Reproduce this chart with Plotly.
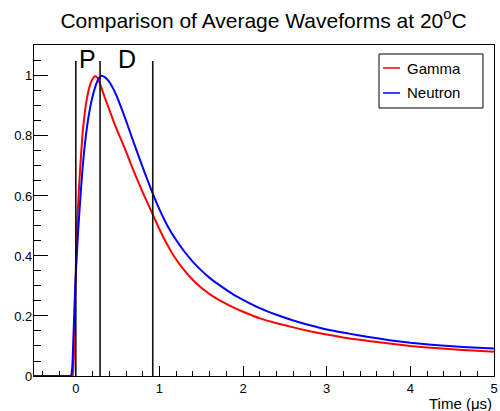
import plotly.graph_objects as go

# ---- data ----
time_gamma = [-0.5, -0.3, -0.1, -0.04, -0.03, -0.02, -0.01, 0.0, 0.01, 0.02, 0.03, 0.05, 0.08,
              0.1, 0.13, 0.17, 0.2, 0.23, 0.26, 0.3, 0.35, 0.4, 0.47, 0.53, 0.59, 0.66, 0.7,
              0.8, 0.9, 0.925, 1.0, 1.1, 1.2, 1.3, 1.4, 1.5, 1.6, 1.7, 1.8, 1.9, 2.0, 2.2,
              2.4, 2.6, 2.8, 3.0, 3.25, 3.5, 3.75, 4.0, 4.25, 4.5, 4.75, 5.0]
gamma = [0.0, 0.0, 0.0, 0.0, 0.02, 0.1, 0.22, 0.36, 0.46, 0.53, 0.585, 0.685, 0.805,
         0.86, 0.92, 0.97, 0.99, 1.0, 0.993, 0.965, 0.925, 0.888, 0.835, 0.795, 0.755, 0.705,
         0.678, 0.612, 0.55, 0.535, 0.489, 0.434, 0.388, 0.351, 0.320, 0.294, 0.273, 0.255,
         0.240, 0.226, 0.214, 0.192, 0.176, 0.162, 0.149, 0.138, 0.126, 0.117, 0.108, 0.100,
         0.094, 0.089, 0.085, 0.081]

time_neutron = [-0.5, -0.3, -0.1, -0.06, -0.05, -0.04, -0.03, -0.02, -0.01, 0.0, 0.02, 0.04,
                0.06, 0.08, 0.1, 0.12, 0.15, 0.19, 0.24, 0.27, 0.3, 0.35, 0.4, 0.45, 0.5, 0.6,
                0.7, 0.8, 0.9, 1.0, 1.1, 1.2, 1.3, 1.4, 1.5, 1.6, 1.7, 1.8, 1.9, 2.0, 2.2, 2.4,
                2.6, 2.8, 3.0, 3.25, 3.5, 3.75, 4.0, 4.25, 4.5, 4.75, 5.0]
neutron = [0.0, 0.0, 0.0, 0.0, 0.01, 0.04, 0.12, 0.2, 0.28, 0.34, 0.445, 0.535,
           0.615, 0.69, 0.75, 0.80, 0.86, 0.92, 0.97, 0.99, 1.0, 0.995, 0.98, 0.956, 0.925,
           0.851, 0.772, 0.695, 0.622, 0.555, 0.4985, 0.453, 0.414, 0.3805, 0.352, 0.327, 0.306,
           0.287, 0.269, 0.254, 0.226, 0.204, 0.185, 0.169, 0.155, 0.142, 0.130, 0.1195, 0.1105,
           0.104, 0.099, 0.095, 0.092]

series_names = ["Gamma", "Neutron"]
series_colors = ["#ff0000", "#0000ff"]

gate_times = [0.0, 0.29, 0.92]      # vertical gate lines (µs)
gate_top = 1.05
region_labels = ["P", "D"]
region_label_x = [0.145, 0.615]
region_label_y = 1.057

x_ticks = [0, 1, 2, 3, 4, 5]
y_ticks = [0, 0.2, 0.4, 0.6, 0.8, 1]

FONT = "Liberation Sans, Arial, Helvetica, sans-serif"

fig = go.Figure()
for tx, vals, nm, col in zip([time_gamma, time_neutron], [gamma, neutron],
                             series_names, series_colors):
    fig.add_trace(go.Scatter(x=tx, y=vals, mode="lines", name=nm,
                             line=dict(color=col, width=2, shape="spline", smoothing=0.5),
                             showlegend=False))

for t in gate_times:
    fig.add_shape(type="line", xref="x", yref="y", x0=t, x1=t, y0=0, y1=gate_top,
                  line=dict(color="#111111", width=1.6))

for lab, lx in zip(region_labels, region_label_x):
    fig.add_annotation(x=lx, y=region_label_y, xref="x", yref="y", text=lab, showarrow=False,
                       font=dict(size=25, color="black", family=FONT),
                       xanchor="center", yanchor="middle")

# legend box (ROOT TLegend style)
fig.add_shape(type="rect", xref="paper", yref="paper", x0=0.75, x1=0.976, y0=0.8097, y1=0.9728,
              line=dict(color="black", width=1), fillcolor="white", layer="above")
legend_rows_y = [0.9305, 0.855]
for nm, col, ly in zip(series_names, series_colors, legend_rows_y):
    fig.add_shape(type="line", xref="paper", yref="paper", x0=0.7587, x1=0.7957, y0=ly, y1=ly,
                  line=dict(color=col, width=1.5), layer="above")
    fig.add_annotation(x=0.8065, y=ly, xref="paper", yref="paper", text=nm, showarrow=False,
                       xanchor="left", yanchor="middle",
                       font=dict(size=15, color="black", family=FONT))

fig.add_annotation(x=1, y=-0.082, xref="paper", yref="paper", text="Time (μs)",
                   showarrow=False, xanchor="right", yanchor="middle",
                   font=dict(size=15, color="black", family=FONT))

fig.update_layout(
    width=500, height=411, autosize=False,
    margin=dict(l=34, r=6, t=45, b=35, autoexpand=False),
    paper_bgcolor="white", plot_bgcolor="white",
    font=dict(family=FONT, color="black"),
    title=dict(text="Comparison of Average Waveforms at 20<sup>o</sup>C",
               x=0.527, xref="container", xanchor="center",
               y=0.95, yref="container", yanchor="middle",
               font=dict(size=21, color="black", family=FONT)),
    showlegend=False,
)

fig.update_xaxes(range=[-0.5, 5], tickvals=x_ticks, ticks="inside", ticklen=10,
                 tickcolor="black", tickwidth=1, showgrid=False, zeroline=False,
                 showline=True, linecolor="black", linewidth=1.2, mirror=True,
                 automargin=False,
                 tickfont=dict(size=13, color="black", family=FONT),
                 minor=dict(dtick=0.2, tick0=0, ticks="inside", ticklen=5,
                            tickcolor="black", showgrid=False))
fig.update_yaxes(range=[0, 1.103], tickvals=y_ticks, ticks="inside", ticklen=14,
                 tickcolor="black", tickwidth=1, showgrid=False, zeroline=False,
                 showline=True, linecolor="black", linewidth=1.2, mirror=True,
                 automargin=False, ticklabelstandoff=-2,
                 tickfont=dict(size=13, color="black", family=FONT),
                 minor=dict(dtick=0.05, tick0=0, ticks="inside", ticklen=7,
                            tickcolor="black", showgrid=False))

fig.write_html("out.html", config={"displayModeBar": False},
               post_script="document.body.style.margin='0';document.body.style.padding='0';")
